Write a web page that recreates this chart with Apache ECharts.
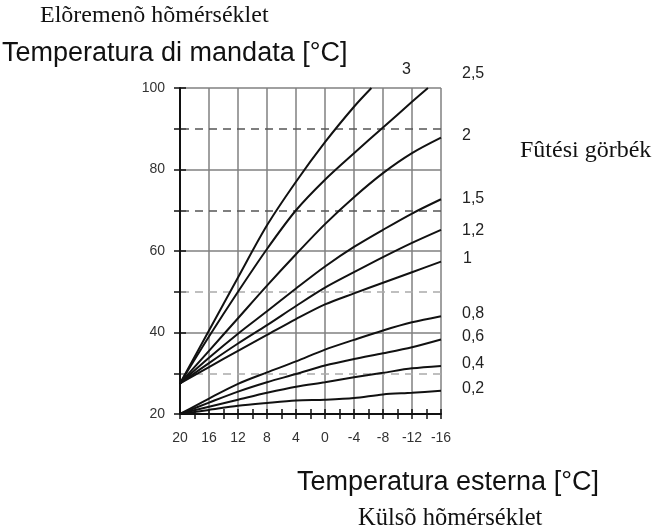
<!DOCTYPE html>
<html>
<head>
<meta charset="utf-8">
<script src="https://cdn.jsdelivr.net/npm/echarts@6/dist/echarts.min.js"></script>
<style>
html, body { margin: 0; padding: 0; background: #fff; }
#chart1 { width: 653px; height: 531px; }
</style>
</head>
<body>
<div id="chart1"></div>
<script>
// temperatura esterna (asse x, da sinistra a destra)
var outdoor = [20, 16, 12, 8, 4, 0, -4, -8, -12, -16];

// curve di riscaldamento, mandata in °C per ogni valore di outdoor
var curve3 = [27.5, 40.5, 53.5, 66.3, 77, 86.7, 95.4];
var curve3End = [-6.4, 100];
var curve25 = [27.5, 39, 50, 60.5, 70, 77.5, 84, 90.3, 96.6];
var curve25End = [-14.2, 100];
var curve2 = [27.5, 35.5, 43.5, 51.5, 59.2, 66.6, 73.2, 79.1, 84, 87.8];
var curve15 = [27.5, 33.8, 39.7, 45.2, 50.8, 56.2, 61, 65.2, 69.2, 72.7];
var curve12 = [27.5, 32.5, 37.3, 41.8, 46.5, 51, 54.8, 58.5, 62, 65.2];
var curve1 = [27.5, 31.5, 35.5, 39.4, 43.3, 46.9, 49.6, 52.2, 54.8, 57.4];
var curve08 = [20, 23.8, 27.4, 30.2, 32.9, 35.8, 38.2, 40.5, 42.5, 44];
var curve06 = [20, 22.8, 25.5, 27.8, 29.8, 31.9, 33.5, 34.9, 36.4, 38.3];
var curve04 = [20, 21.8, 23.5, 25.2, 26.7, 27.8, 29, 30.1, 31.2, 31.8];
var curve02 = [20, 21, 22, 22.7, 23.3, 23.5, 23.9, 24.8, 25.2, 25.7];

var curveNames = ['3', '2,5', '2', '1,5', '1,2', '1', '0,8', '0,6', '0,4', '0,2'];
var dashedLevels = [90, 70, 50, 30];

var mychart = echarts.init(document.getElementById('chart1'));

function pairs(ys, end) {
    var out = [];
    for (var i = 0; i < ys.length; i++) {
        out.push([outdoor[i], ys[i]]);
    }
    if (end) out.push(end);
    return out;
}

var allCurves = [
    pairs(curve3, curve3End), pairs(curve25, curve25End), pairs(curve2), pairs(curve15),
    pairs(curve12), pairs(curve1), pairs(curve08), pairs(curve06), pairs(curve04), pairs(curve02)
];

var ss = [];
for (var i = 0; i < allCurves.length; i++) {
    ss.push({
        name: curveNames[i],
        type: 'line',
        data: allCurves[i],
        smooth: 0.3,
        symbol: 'none',
        lineStyle: { color: '#111', width: 2 },
        z: 5
    });
}
// linee tratteggiate a 30/50/70/90
ss[0].markLine = {
    silent: true,
    symbol: 'none',
    label: { show: false },
    z: 1,
    data: dashedLevels.map(function (v) {
        return {
            yAxis: v,
            lineStyle: { color: v > 60 ? '#555' : '#aaa', width: 1.5, type: [8, 6] }
        };
    })
};

var sans = 'Liberation Sans';
var serif = 'Liberation Serif';

// etichette delle curve (a destra del grafico)
var labelPos = [[402, 71], [462, 75], [462, 137], [462, 200], [462, 232], [463, 260], [462, 315], [462, 338], [462, 365], [462, 390]];
var texts = [];
for (var k = 0; k < curveNames.length; k++) {
    texts.push({
        type: 'text', left: labelPos[k][0], top: labelPos[k][1] - 9,
        style: { text: curveNames[k], font: '16px ' + sans, fill: '#222' }
    });
}
texts.push(
    { type: 'text', left: 40, top: 4, style: { text: 'Elõremenõ hõmérséklet', font: '24px ' + serif, fill: '#111' } },
    { type: 'text', left: 2, top: 40, style: { text: 'Temperatura di mandata [°C]', font: '27px ' + sans, fill: '#111' } },
    { type: 'text', left: 520, top: 139, style: { text: 'Fûtési görbék', font: '24px ' + serif, fill: '#111' } },
    { type: 'text', left: 297, top: 469, style: { text: 'Temperatura esterna [°C]', font: '27px ' + sans, fill: '#111' } },
    { type: 'text', left: 358, top: 506, style: { text: 'Külsõ hõmérséklet', font: '24.5px ' + serif, fill: '#111' } }
);

var option = {
    backgroundColor: '#fff',
    animation: false,
    grid: { left: 180, top: 88, right: 212, bottom: 117, containLabel: false },
    xAxis: [{
        type: 'value',
        inverse: true,
        min: -16,
        max: 20,
        interval: 4,
        axisLine: { show: true, onZero: false, lineStyle: { color: '#111', width: 2 } },
        axisTick: { show: true, length: 5, lineStyle: { color: '#111', width: 1.5 } },
        minorTick: { show: true, splitNumber: 2, length: 5, lineStyle: { color: '#111', width: 1.5 } },
        axisLabel: { margin: 17, fontSize: 14, fontFamily: sans, color: '#333' },
        splitLine: { show: true, lineStyle: { color: '#808080', width: 1.5 } }
    }, {
        type: 'value',
        position: 'top',
        offset: -326,
        inverse: true,
        min: -16,
        max: 20,
        interval: 2,
        axisLine: { show: false, onZero: false },
        axisTick: { show: true, length: 5, lineStyle: { color: '#111', width: 1.5 } },
        axisLabel: { show: false },
        splitLine: { show: false }
    }],
    yAxis: [{
        type: 'value',
        min: 20,
        max: 100,
        interval: 20,
        axisLine: { show: true, onZero: false, lineStyle: { color: '#111', width: 2 } },
        axisTick: { show: true, length: 6, lineStyle: { color: '#111', width: 1.5 } },
        minorTick: { show: true, splitNumber: 2, length: 6, lineStyle: { color: '#111', width: 1.5 } },
        axisLabel: { margin: 15, fontSize: 14, fontFamily: sans, color: '#333' },
        splitLine: { show: true, lineStyle: { color: '#808080', width: 1.5 } }
    }, {
        type: 'value',
        position: 'right',
        offset: -261,
        min: 20,
        max: 100,
        interval: 10,
        axisLine: { show: false, onZero: false },
        axisTick: { show: true, length: 6, lineStyle: { color: '#111', width: 1.5 } },
        axisLabel: { show: false },
        splitLine: { show: false }
    }],
    graphic: texts,
    series: ss
};

mychart.setOption(option);
</script>
</body>
</html>
